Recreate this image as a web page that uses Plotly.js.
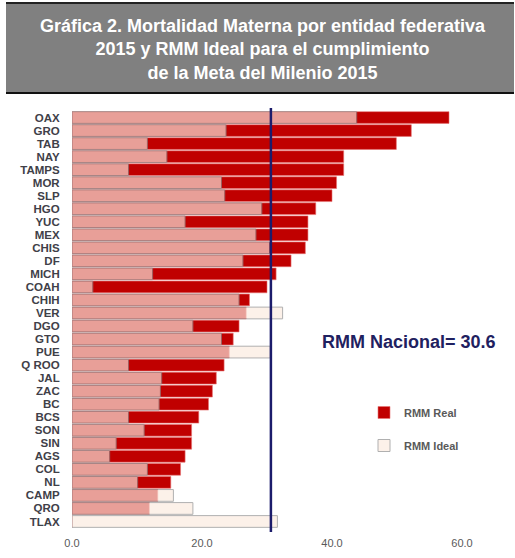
<!DOCTYPE html>
<html>
<head>
<meta charset="utf-8">
<script src="https://cdn.plot.ly/plotly-3.0.1.min.js"></script>
<style>html,body{margin:0;padding:0;background:#fff;}#chart{width:515px;height:558px;}</style>
</head>
<body>
<div id="chart"></div>
<script>
var estados = ["OAX","GRO","TAB","NAY","TAMPS","MOR","SLP","HGO","YUC","MEX","CHIS","DF","MICH","COAH","CHIH","VER","DGO","GTO","PUE","Q ROO","JAL","ZAC","BC","BCS","SON","SIN","AGS","COL","NL","CAMP","QRO","TLAX"];
var rmmReal = [58.0,52.2,49.9,41.8,41.8,40.7,40.0,37.5,36.3,36.3,35.9,33.7,31.4,30.0,27.3,26.8,25.7,24.8,24.2,23.4,22.2,21.6,21.0,19.5,18.4,18.4,17.4,16.7,15.2,13.2,11.9,0];
var rmmIdeal = [43.8,23.7,11.6,14.6,8.7,23.0,23.5,29.2,17.4,28.3,30.4,26.3,12.4,3.2,25.7,32.4,18.6,23.0,30.5,8.7,13.8,13.6,13.4,8.7,11.1,6.8,5.8,11.6,10.1,15.6,18.6,31.6];
var rmmNacional = 30.6;
var xTicks = [0,20,40,60];

var F = "Liberation Sans, Arial, sans-serif";
var L = 72, R = 462, T = 111, B = 528;
var W = R - L, H = B - T;
function px(x){ return (x - L) / W; }
function py(y){ return (B - y) / H; }

var traces = [
  {type:"bar", orientation:"h", y:estados, x:rmmReal, name:"RMM Real", legendgroup:"a",
   marker:{color:"#C00000", line:{color:"#E57373", width:0.6}}, hoverinfo:"x+y"},
  {type:"bar", orientation:"h", y:estados, x:rmmIdeal, name:"RMM Ideal", legendgroup:"b",
   opacity:0.68, marker:{color:"#FCEBE0", line:{color:"#8C8C8C", width:1}}, hoverinfo:"x+y"}
];

var layout = {
  width:515, height:558,
  margin:{l:L, r:515-R, t:T, b:558-B, pad:0},
  paper_bgcolor:"#fff", plot_bgcolor:"#fff",
  barmode:"overlay", bargap:0.1,
  font:{family:F, color:"#595959"},
  xaxis:{range:[0,60], tickvals:xTicks, tickformat:".1f", showgrid:false, zeroline:false,
         showline:false, ticks:"outside", ticklen:5, tickcolor:"rgba(0,0,0,0)",
         tickfont:{family:F, size:11, color:"#595959"}, fixedrange:true},
  yaxis:{type:"category", autorange:"reversed", tickmode:"array", tickvals:estados, ticktext:estados,
         showgrid:false, zeroline:false, showline:false,
         ticks:"outside", ticklen:9, tickcolor:"rgba(0,0,0,0)",
         tickfont:{family:F, size:11.5, color:"#404048", weight:"bold"}, fixedrange:true},
  showlegend:true,
  legend:{x:px(364), xanchor:"left", y:py(398), yanchor:"top", bgcolor:"rgba(0,0,0,0)",
          traceorder:"grouped", tracegroupgap:14, itemwidth:30,
          font:{family:F, size:11, color:"#595959", weight:"bold"}},
  shapes:[
    {type:"rect", xref:"paper", yref:"paper", x0:px(6), x1:px(514), y0:py(94), y1:py(3),
     fillcolor:"#808080", line:{width:0}, layer:"below"},
    {type:"line", xref:"paper", yref:"paper", x0:px(6), x1:px(514), y0:py(3), y1:py(3),
     line:{color:"#222", width:2}},
    {type:"line", xref:"paper", yref:"paper", x0:px(6), x1:px(514), y0:py(93), y1:py(93),
     line:{color:"#111", width:2}},
    {type:"line", xref:"x", yref:"paper", x0:rmmNacional, x1:rmmNacional, y0:py(532), y1:py(108),
     line:{color:"#1C1C6B", width:2.5}}
  ],
  annotations:[
    {text:"<b>Gráfica 2. Mortalidad Materna por entidad federativa<br>2015 y RMM Ideal para el cumplimiento<br>de la Meta del Milenio 2015</b>",
     xref:"paper", yref:"paper", x:px(263), y:py(49), xanchor:"center", yanchor:"middle",
     showarrow:false, align:"center", font:{family:F, size:18, color:"#ffffff"}},
    {text:"<b>RMM Nacional= " + rmmNacional.toFixed(1) + "</b>", xref:"paper", yref:"paper",
     x:px(409), y:py(342), xanchor:"center", yanchor:"middle", showarrow:false,
     font:{family:F, size:18, color:"#1F2160"}}
  ]
};

Plotly.newPlot("chart", traces, layout, {displayModeBar:false, staticPlot:true});
</script>
</body>
</html>
